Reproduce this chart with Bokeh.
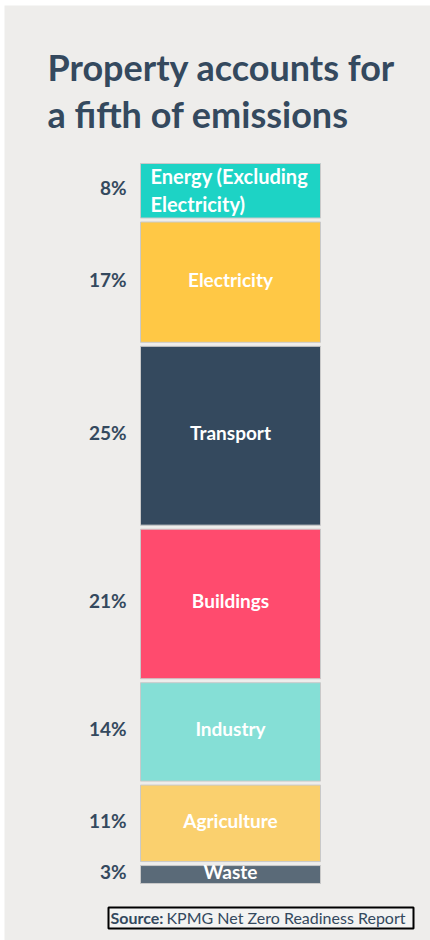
from bokeh.plotting import figure
from bokeh.models import Range1d, Label, BoxAnnotation, ColumnDataSource
from bokeh.core.properties import value
from bokeh.embed import file_html
from bokeh.resources import INLINE

# ---- data ----
categories = ["Energy (Excluding\nElectricity)", "Electricity", "Transport", "Buildings",
              "Industry", "Agriculture", "Waste"]
shares = [8, 17, 25, 21, 14, 11, 3]
pct_labels = ["8%", "17%", "25%", "21%", "14%", "11%", "3%"]
colors = ["#1dd3c5", "#ffc845", "#34495e", "#ff4b6e", "#85dfd6", "#fad06e", "#5a6a78"]
title_lines = ["Property accounts for", "a fifth of emissions"]
source_bold = "Source:"
source_text = "KPMG Net Zero Readiness Report"

# ---- layout ----
W, H = 430, 940
BG = "#eeedeb"
TXT = "#34495e"
PX = 7.313          # pixels per percentage point
TOP = 163           # pixel of stack top
GAP = 4 / PX        # gap between segments in data units
BAR_L, BAR_R = 140, 320
FONT = "Lato"

p = figure(width=W, height=H, output_backend="svg", toolbar_location=None,
           x_range=Range1d(0, W), y_range=Range1d((H - TOP) / PX, -TOP / PX),
           min_border=0, background_fill_color="#ffffff", border_fill_color="#ffffff",
           outline_line_color=None)
p.axis.visible = False
p.grid.visible = False

# grey panel
p.add_layout(BoxAnnotation(left=4, right=W, bottom=0, top=H - 5, left_units="screen",
                           right_units="screen", top_units="screen", bottom_units="screen",
                           fill_color=BG, fill_alpha=1, line_alpha=0, level="underlay"))

tops, bottoms, mids = [], [], []
cum = 0
for v in shares:
    tops.append(cum)
    bottoms.append(cum + v - GAP)
    mids.append(cum + (v - GAP) / 2)
    cum += v

src = ColumnDataSource(dict(top=tops, bottom=bottoms, mid=mids, color=colors,
                            cat=categories, pct=pct_labels))
p.quad(left=BAR_L, right=BAR_R, top="top", bottom="bottom", fill_color="color",
       line_color="#c9c9c9", line_width=1, source=src)

# percentage labels
p.text(x=126, y="mid", text="pct", source=src, text_align="right", text_baseline="middle",
       y_offset=-3, text_font=value(FONT), text_font_style="bold", text_font_size="19px",
       text_color=TXT)

# segment labels (centered, all except first)
inner = ColumnDataSource(dict(mid=mids[1:], cat=categories[1:]))
p.text(x=(BAR_L + BAR_R) / 2, y="mid", text="cat", source=inner, text_align="center",
       text_baseline="middle", y_offset=-3, text_font=value(FONT), text_font_style="bold",
       text_font_size="19px", text_color="#ffffff")
first = ColumnDataSource(dict(mid=mids[:1], cat=categories[:1]))
p.text(x=BAR_L + 10, y="mid", text="cat", source=first, text_align="left",
       text_baseline="middle", y_offset=-1, text_font=value(FONT), text_font_style="bold",
       text_font_size="20px", text_color="#ffffff", text_line_height=1.15)

# title
for i, line in enumerate(title_lines):
    p.add_layout(Label(x=47, y=H - 66 - i * 47, x_units="screen", y_units="screen",
                       text=line, text_font=FONT, text_font_style="bold",
                       text_font_size="36px", text_color=TXT, text_baseline="alphabetic"))

# source
p.add_layout(BoxAnnotation(left=108, right=413, top=H - 907, bottom=H - 928,
                           left_units="screen", right_units="screen", top_units="screen",
                           bottom_units="screen", fill_color="#f3f3f2", fill_alpha=1,
                           line_color="#000000", line_alpha=1, line_width=2))
p.add_layout(Label(x=110, y=H - 917, x_units="screen", y_units="screen", text=source_bold,
                   text_font=FONT, text_font_style="bold", text_font_size="16px",
                   text_color=TXT, text_baseline="alphabetic"))
p.add_layout(Label(x=166, y=H - 917, x_units="screen", y_units="screen", text=source_text,
                   text_font=FONT, text_font_size="16px",
                   text_color=TXT, text_baseline="alphabetic"))

open("out.html", "w").write(file_html(p, INLINE))
